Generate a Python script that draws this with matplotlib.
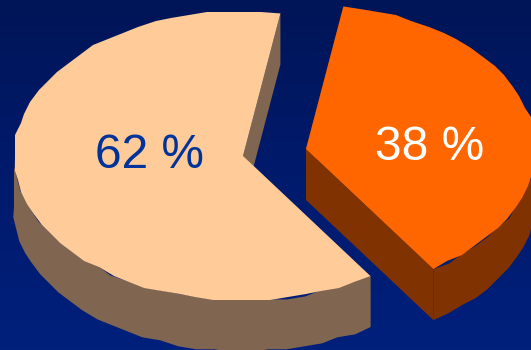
#!/usr/bin/env python3
# Exploded 3D-look pie with two slices, drawn as flat polygons on a pixel-sized axes.
import numpy as np
import matplotlib
matplotlib.use("Agg")
import matplotlib.pyplot as plt
from matplotlib.colors import LinearSegmentedColormap
from matplotlib.patches import Polygon

shares = [62, 38]
labels = ["62 %", "38 %"]
top_colors = ["#FFCC99", "#FF6600"]
side_colors = ["#806650", "#803300"]
label_colors = ["#003399", "#FFFFFF"]

START = 80.6          # angle where the two slices meet at the back
RX, RY = 229, 144.5   # ellipse radii of the tilted disc
DEPTH = 51            # extrusion height
CENTERS = [(243, 156), (306, 149)]
LABEL_POS = [(149.5, 156), (430, 148)]
GRID = 3.0            # coarse vertex snapping, gives the rough rim


def rim(cx, cy, a0, a1, snap_off=0.0):
    # points on the ellipse from a0 to a1 (degrees), ends kept exact
    n = max(2, int(abs(a1 - a0) / 4.5))
    ang = np.radians(np.linspace(a0, a1, n + 1))
    x = cx + RX * np.cos(ang)
    y = cy - RY * np.sin(ang)
    sx = np.round((x + snap_off) / GRID) * GRID - snap_off
    sy = np.round((y + snap_off) / GRID) * GRID - snap_off
    sx[0], sy[0], sx[-1], sy[-1] = x[0], y[0], x[-1], y[-1]
    return np.column_stack([sx, sy])


def draw_slice(ax, center, a0, a1, top, side):
    cx, cy = center
    p0 = np.array([cx + RX * np.cos(np.radians(a0)), cy - RY * np.sin(np.radians(a0))])
    p1 = np.array([cx + RX * np.cos(np.radians(a1)), cy - RY * np.sin(np.radians(a1))])
    drop = np.array([0, DEPTH])
    apex = np.array([cx, cy])

    # radial faces first, the top covers whatever is hidden
    for p in (p0, p1):
        ax.add_patch(Polygon([apex, p, p + drop, apex + drop], fc=side, ec="none"))

    # outer wall only on the front half of the rim
    lo, hi = max(a0, 180), a1
    if a1 <= 90:
        lo, hi = a0, min(a1, 0)
    upper = rim(cx, cy, lo, hi, 0.6)
    lower = rim(cx, cy, lo, hi, 1.7) + drop
    ax.add_patch(Polygon(np.vstack([upper, lower[::-1]]), fc=side, ec="none"))

    outline = np.vstack([apex, rim(cx, cy, a0, a1)])
    ax.add_patch(Polygon(outline, fc=top, ec="none"))


fig = plt.figure(figsize=(5.31, 3.5), dpi=100)
ax = fig.add_axes([0, 0, 1, 1])
ax.set_xlim(0, 531)
ax.set_ylim(350, 0)
ax.axis("off")

# vertical background gradient
bg = LinearSegmentedColormap.from_list("bg", ["#001557", "#001A6C", "#00207C"])
ax.imshow(np.linspace(0, 1, 350)[:, None], cmap=bg, extent=(0, 531, 350, 0), aspect="auto", zorder=0)

sweeps = [s / sum(shares) * 360 for s in shares]
# peach slice runs counter-clockwise from the seam, orange one clockwise
spans = [(START, START + sweeps[0]), (START - sweeps[1], START)]

for center, (a0, a1), top, side in zip(CENTERS, spans, top_colors, side_colors):
    draw_slice(ax, center, a0, a1, top, side)

for (x, y), text, col in zip(LABEL_POS, labels, label_colors):
    ax.text(x, y, text, color=col, fontsize=34.5, family="Liberation Sans", ha="center", va="center")

fig.savefig("out.png", dpi=100)
